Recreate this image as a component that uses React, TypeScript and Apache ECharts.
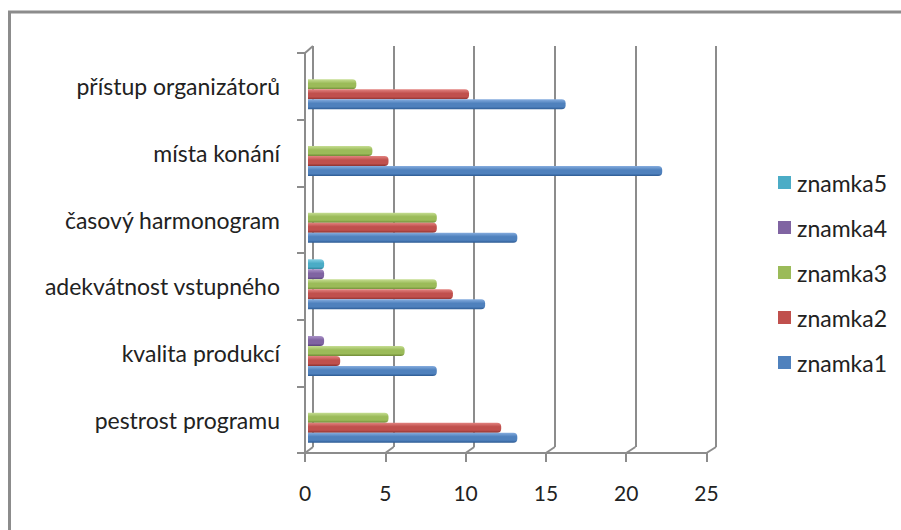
import React, { useEffect, useRef } from "react";
import * as echarts from "echarts";

// Categories listed bottom-to-top as they appear on the vertical axis
const categories = [
  "pestrost programu",
  "kvalita produkcí",
  "adekvátnost vstupného",
  "časový harmonogram",
  "místa konání",
  "přístup organizátorů",
];

const seriesNames = ["znamka1", "znamka2", "znamka3", "znamka4", "znamka5"];

const znamka1 = [13, 8, 11, 13, 22, 16];
const znamka2 = [12, 2, 9, 8, 5, 10];
const znamka3 = [5, 6, 8, 8, 4, 3];
const znamka4 = [0, 1, 1, 0, 0, 0];
const znamka5 = [0, 0, 1, 0, 0, 0];

const seriesValues = [znamka1, znamka2, znamka3, znamka4, znamka5];

// [light top, base, dark bottom] for the cylinder-like shading
const palette = [
  ["#86addf", "#4f81bd", "#2c5a93"],
  ["#e38481", "#c0504d", "#8c3230"],
  ["#c6de93", "#9bbb59", "#6f8a37"],
  ["#ab93c9", "#8064a2", "#5a4379"],
  ["#86d0e4", "#4bacc6", "#2d8098"],
];

const xTicks = [0, 5, 10, 15, 20, 25];

const FONT = "Lato, 'Noto Sans', sans-serif";
const GRID_LINE = "#8c8c8c";

export default function App() {
  const ref = useRef<HTMLDivElement>(null);

  useEffect(() => {
    if (!ref.current) return;
    const chart = echarts.init(ref.current, null, { renderer: "svg" });

    const shaded = (c: string[]) =>
      new echarts.graphic.LinearGradient(0, 0, 0, 1, [
        { offset: 0, color: c[0] },
        { offset: 0.4, color: c[1] },
        { offset: 0.75, color: c[1] },
        { offset: 1, color: c[2] },
      ]);

    // ECharts stacks the first series at the top of each band, so add them
    // from znamka5 down to znamka1 to keep znamka1 at the bottom.
    const order = [4, 3, 2, 1, 0];

    const option: any = {
      animation: false,
      backgroundColor: "#ffffff",
      grid: [
        // bars
        { left: 308, top: 51, width: 402.5, height: 400 },
        // front floor axis + category axis
        { left: 305, top: 53, width: 401.5, height: 400 },
        // back wall gridlines
        { left: 313, top: 46, width: 403, height: 401 },
      ],
      xAxis: [
        { gridIndex: 0, type: "value", min: 0, max: 25, interval: 5, show: false },
        {
          gridIndex: 1,
          type: "value",
          min: 0,
          max: 25,
          interval: 5,
          axisLine: { show: true, lineStyle: { color: GRID_LINE, width: 2 } },
          axisTick: { show: true, length: 9, lineStyle: { color: GRID_LINE, width: 2 } },
          splitLine: { show: false },
          axisLabel: { margin: 29, fontSize: 21, color: "#222", fontFamily: FONT },
        },
        {
          gridIndex: 2,
          type: "value",
          min: 0,
          max: 25,
          interval: 5,
          axisLine: { show: false },
          axisTick: { show: false },
          axisLabel: { show: false },
          splitLine: { show: true, lineStyle: { color: GRID_LINE, width: 2 } },
        },
      ],
      yAxis: [
        { gridIndex: 0, type: "category", data: categories, show: false },
        {
          gridIndex: 1,
          type: "category",
          data: categories,
          axisLine: { show: true, lineStyle: { color: GRID_LINE, width: 2 } },
          axisTick: { show: true, length: 8, lineStyle: { color: GRID_LINE, width: 2 } },
          axisLabel: { margin: 25, fontSize: 23, color: "#222", fontFamily: FONT },
        },
        { gridIndex: 2, type: "value", show: false },
      ],
      legend: {
        orient: "vertical",
        left: 773,
        top: 166,
        itemWidth: 13,
        itemHeight: 13,
        itemGap: 22,
        icon: "rect",
        textStyle: { fontSize: 23, color: "#222", fontFamily: FONT, padding: [0, 0, 0, 1] },
        data: order.map((i) => ({ name: seriesNames[i], itemStyle: { color: palette[i][1] } })),
      },
      series: order.map((i) => ({
        name: seriesNames[i],
        type: "bar",
        xAxisIndex: 0,
        yAxisIndex: 0,
        data: seriesValues[i],
        barWidth: 10,
        barGap: "0%",
        itemStyle: {
          color: shaded(palette[i]),
          borderRadius: [0, 4, 4, 0],
        },
      })),
    };

    chart.setOption(option);

    // 3D floor edges: connect each back-wall gridline to its front tick
    const lines: any[] = [];
    const style = { stroke: GRID_LINE, lineWidth: 2 };
    xTicks.forEach((v) => {
      const back = chart.convertToPixel({ xAxisIndex: 2 }, v) as number;
      const front = chart.convertToPixel({ xAxisIndex: 1 }, v) as number;
      lines.push({
        type: "line",
        shape: { x1: back, y1: 447, x2: front, y2: 453 },
        style,
      });
    });
    const left = chart.convertToPixel({ xAxisIndex: 1 }, 0) as number;
    const backLeft = chart.convertToPixel({ xAxisIndex: 2 }, 0) as number;
    lines.push({ type: "line", shape: { x1: left, y1: 53, x2: backLeft, y2: 46 }, style });
    lines.push({ type: "line", shape: { x1: left - 8, y1: 453, x2: left, y2: 453 }, style });
    // outer chart frame
    lines.push({
      type: "rect",
      shape: { x: 9.5, y: 12, width: 1000, height: 1000 },
      style: { fill: "none", stroke: "#8c8c8c", lineWidth: 3 },
      silent: true,
    });
    chart.setOption({ graphic: lines });

    return () => chart.dispose();
  }, []);

  return (
    <div
      ref={ref}
      style={{ position: "absolute", left: 0, top: 0, width: 901, height: 530 }}
    />
  );
}
